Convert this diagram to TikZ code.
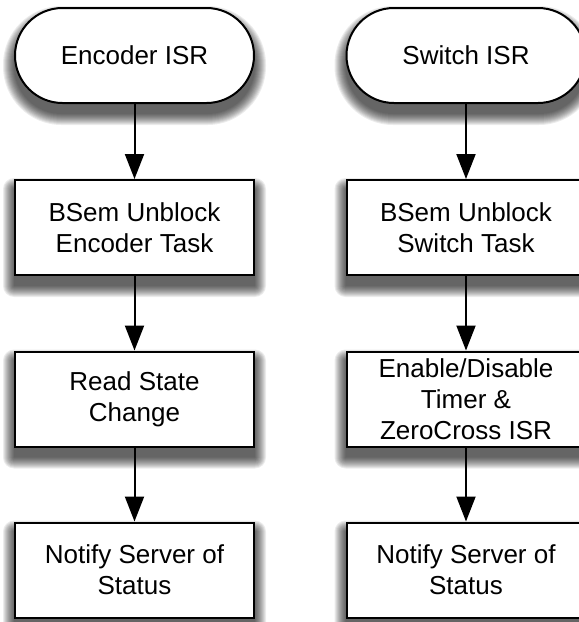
\documentclass[tikz,border=0pt]{standalone}
\usepackage{fontspec}
\setmainfont{Liberation Sans}
\usetikzlibrary{arrows.meta,backgrounds}
\begin{document}
\begin{tikzpicture}[x=1pt,y=-1pt,
  base/.style={draw=black, line width=2pt, fill=white, minimum width=239pt,
    minimum height=95pt, inner sep=0pt, align=center,
    font=\fontsize{26}{31}\selectfont},
  terminal/.style={base, rounded corners=47.5pt},
  process/.style={base},
  shadowlayer/.style={fill=black, opacity=0.075},
  flow/.style={line width=2pt, -{Triangle[width=19pt,length=25pt]}}]
  \clip (0,0) rectangle (579,622);
  \useasboundingbox (0,0) rectangle (579,622);
  % left column
  \node[terminal] (e1) at (134.5,55.5) {Encoder ISR};
  \node[process]  (e2) at (134.5,227.5) {BSem Unblock\\Encoder Task};
  \node[process]  (e3) at (134.5,399) {Read State\\Change};
  \node[process]  (e4) at (134.5,570) {Notify Server of\\Status};
  % right column
  \node[terminal] (s1) at (466,55.5) {Switch ISR};
  \node[process]  (s2) at (466,227.5) {BSem Unblock\\Switch Task};
  \node[process]  (s3) at (466,399) {Enable/Disable\\Timer \&\\ZeroCross ISR};
  \node[process]  (s4) at (466,570) {Notify Server of\\Status};
  % soft drop shadows, built from stacked translucent outlines
  \begin{pgfonlayer}{background}
    \foreach \n/\r in {e1/47.5,e2/0,e3/0,e4/0,s1/47.5,s2/0,s3/0,s4/0}{
      \foreach \e in {0,...,11}{
        \fill[shadowlayer, rounded corners={(\r+\e+0.1)*1pt}]
          ([shift={(-\e,10+\e)}]\n.south west) rectangle ([shift={(\e,10-\e)}]\n.north east);
      }
    }
  \end{pgfonlayer}
  % connectors
  \draw[flow] (e1) -- (e2);
  \draw[flow] (e2) -- (e3);
  \draw[flow] (e3) -- (e4);
  \draw[flow] (s1) -- (s2);
  \draw[flow] (s2) -- (s3);
  \draw[flow] (s3) -- (s4);
\end{tikzpicture}
\end{document}
